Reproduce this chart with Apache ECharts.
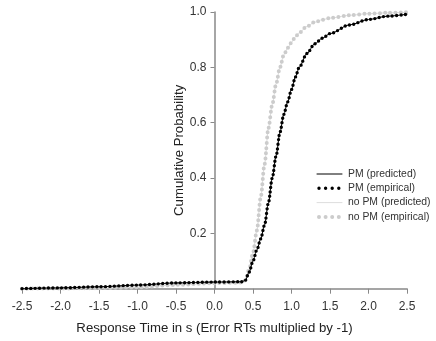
<!DOCTYPE html>
<html><head><meta charset="utf-8">
<script src="https://cdn.jsdelivr.net/npm/echarts@6/dist/echarts.min.js"></script>
<style>html,body{margin:0;padding:0;background:#fff}#c{width:436px;height:341px}</style>
</head><body><div id="c"></div>
<script>
const xs      = [-2.5,-2.0,-1.5,-1.0,-0.5,0.0,0.35,0.40,0.45,0.50,0.55,0.60,0.65,0.70,0.75,0.80,0.85,0.90,0.95,1.00,1.05,1.10,1.20,1.30,1.40,1.50,1.75,2.00,2.25,2.50];
const pmEmp   = [0.000,0.003,0.007,0.013,0.021,0.024,0.025,0.030,0.060,0.100,0.140,0.180,0.230,0.310,0.400,0.480,0.565,0.630,0.675,0.720,0.765,0.800,0.850,0.885,0.905,0.922,0.953,0.973,0.985,0.992];
const noPmEmp = [0.000,0.001,0.002,0.005,0.014,0.020,0.022,0.030,0.070,0.130,0.210,0.330,0.450,0.580,0.665,0.740,0.800,0.845,0.870,0.890,0.910,0.925,0.948,0.963,0.972,0.978,0.988,0.994,0.997,0.999];
const pmPred   = pmEmp;
const noPmPred = noPmEmp;
const xTicks = [-2.5,-2.0,-1.5,-1.0,-0.5,0.0,0.5,1.0,1.5,2.0,2.5];
const legendNames = ['PM (predicted)','PM (empirical)','no PM (predicted)','no PM (empirical)'];

const pair = a => xs.map((x,i)=>[x,a[i]]);
const font = 'Liberation Sans, Arial, sans-serif';
const gridL = 22, gridR = 29, W = 436;
const plotW = W - gridL - gridR;
const zeroOffset = -(0 - xTicks[0]) / (xTicks[xTicks.length-1] - xTicks[0]) * plotW;

const styles = {
  'PM (predicted)':   {color:'#000000', width:1,   dash:'solid'},
  'PM (empirical)':   {color:'#000000', width:3.4, dash:[0,4.4]},
  'no PM (predicted)':{color:'#dddddd', width:1,   dash:'solid'},
  'no PM (empirical)':{color:'#cccccc', width:4,   dash:[0,5.2]}
};
const chart = echarts.init(document.getElementById('c'), null, {renderer:'canvas'});
const line = (name, data, z) => ({
  name, type:'line', data: pair(data), symbol:'none', smooth:0.3, smoothMonotone:'x', z,
  lineStyle:{color:styles[name].color, width:styles[name].width, type:styles[name].dash, cap:'round'},
  itemStyle:{color:styles[name].color}
});
const legendGraphic = [];
const lgX = 317, lgY = 174, lgRow = 14.3, lgLen = 25;
legendNames.forEach((n,i)=>{
  const s = styles[n], y = lgY + i*lgRow;
  const dotted = Array.isArray(s.dash);
  legendGraphic.push({type:'line', shape:{x1:lgX + (dotted?2:0), y1:y, x2:lgX+lgLen, y2:y},
    style:{stroke:s.color, lineWidth:s.width, lineDash: dotted ? [0,6.6] : null, lineCap:'round'}});
  legendGraphic.push({type:'text', x:lgX+lgLen+6, y:y, style:{text:n, fill:'#333', font:'10.4px '+font, textVerticalAlign:'middle'}});
});
chart.setOption({
  animation:false,
  grid:{left:gridL,right:gridR,top:12,bottom:52.3,containLabel:false,outerBoundsMode:'none'},
  xAxis:{type:'value',min:-2.5,max:2.5,interval:0.5,
    axisLine:{onZero:false,lineStyle:{color:'#888',width:1.5}},
    axisTick:{show:true,length:5,lineStyle:{color:'#888',width:1}},
    splitLine:{show:false},
    axisLabel:{color:'#333',fontFamily:font,fontSize:12,margin:12,formatter:v=>v.toFixed(1)},
    name:'Response Time in s (Error RTs multiplied by -1)',nameLocation:'middle',nameGap:33,nameMoveOverlap:false,
    nameTextStyle:{color:'#222',fontFamily:font,fontSize:13.2}},
  yAxis:{type:'value',min:0,max:1,interval:0.2,position:'left',offset:zeroOffset,
    axisLine:{show:true,onZero:false,lineStyle:{color:'#888',width:1.5}},
    axisTick:{show:true,length:4,lineStyle:{color:'#888'}},
    splitLine:{show:false},
    axisLabel:{color:'#333',fontFamily:font,fontSize:12,margin:8,showMinLabel:false,formatter:v=>v.toFixed(1)},
    name:'Cumulative Probability',nameLocation:'middle',nameGap:29,nameRotate:90,nameMoveOverlap:false,
    nameTextStyle:{color:'#222',fontFamily:font,fontSize:13.2}},
  graphic: legendGraphic,
  series:[
    line('no PM (predicted)', noPmPred, 1),
    line('no PM (empirical)', noPmEmp, 2),
    line('PM (predicted)', pmPred, 3),
    line('PM (empirical)', pmEmp, 4)
  ]
});
</script></body></html>
